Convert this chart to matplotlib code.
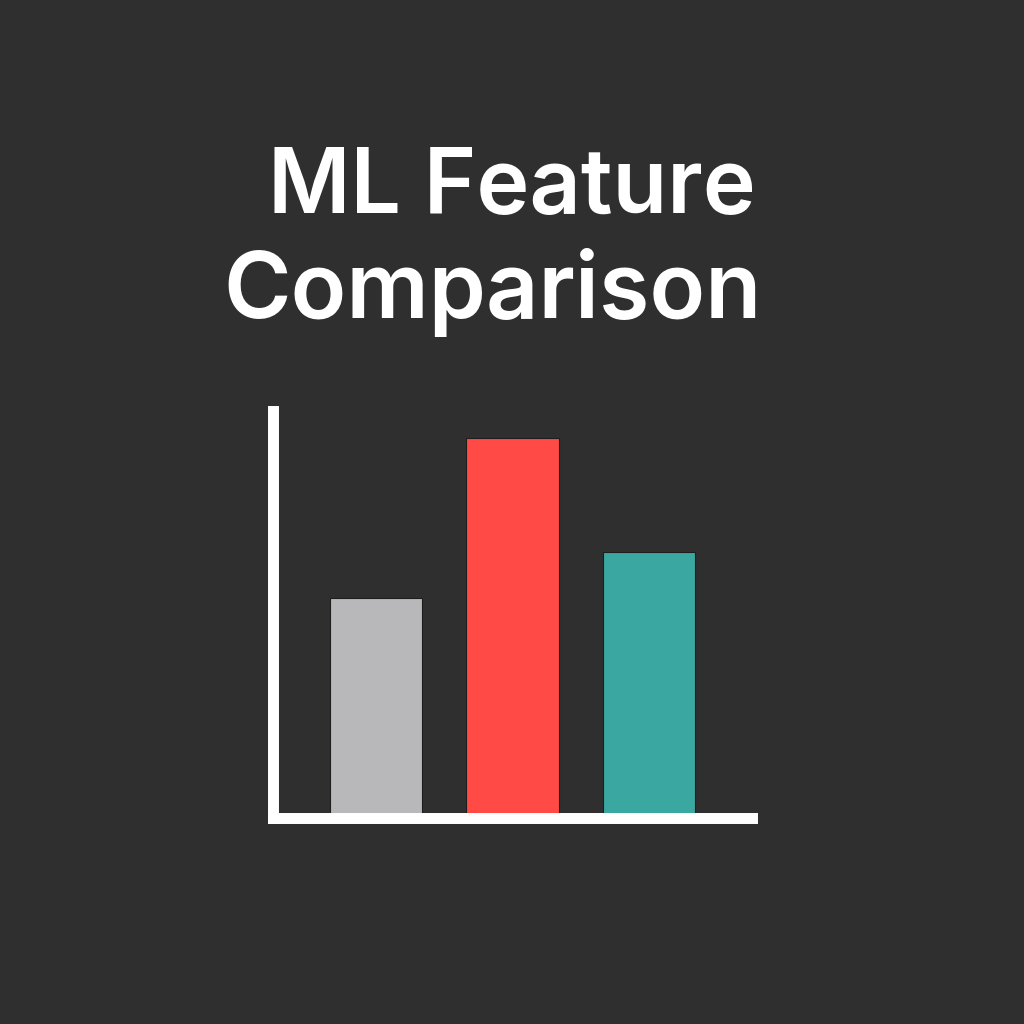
import matplotlib
matplotlib.use("Agg")
import matplotlib.pyplot as plt

title_lines = ["ML Feature", "Comparison"]
categories = ["Feature A", "Feature B", "Feature C"]
values = [54.0, 93.5, 65.5]
colors = ["#b8b8ba", "#ff4a45", "#3aa8a0"]

BG = "#2f2f2f"
DPI = 100
fig = plt.figure(figsize=(10.24, 10.24), dpi=DPI, facecolor=BG)

W = H = 1024.0
left_px, right_px = 272.5, 751.5
top_px, bottom_px = 411.5, 817.5
ax = fig.add_axes([left_px / W, 1 - bottom_px / H,
                   (right_px - left_px) / W, (bottom_px - top_px) / H])
ax.set_facecolor(BG)

x = list(range(len(categories)))
ax.bar(x, values, width=0.678, color=colors, edgecolor="#1e1e1e", linewidth=0.8, zorder=1)
ax.set_xlim(-0.7575, 2.7516)
ax.set_ylim(0, 100)

for side in ["top", "right"]:
    ax.spines[side].set_visible(False)
for side in ["left", "bottom"]:
    sp = ax.spines[side]
    sp.set_color("white")
    sp.set_linewidth(7.9)
    sp.set_capstyle("projecting")
    sp.set_zorder(3)
ax.set_xticks([])
ax.set_yticks([])

font = dict(family=["Inter", "DejaVu Sans"], fontweight="semibold", color="white")
fig.text(512 / W, 1 - 213 / H, title_lines[0], ha="center", va="baseline", fontsize=64.5, **font)
fig.text(492.5 / W, 1 - 318 / H, title_lines[1], ha="center", va="baseline", fontsize=66, **font)

fig.savefig("out.png", dpi=DPI, facecolor=BG)
